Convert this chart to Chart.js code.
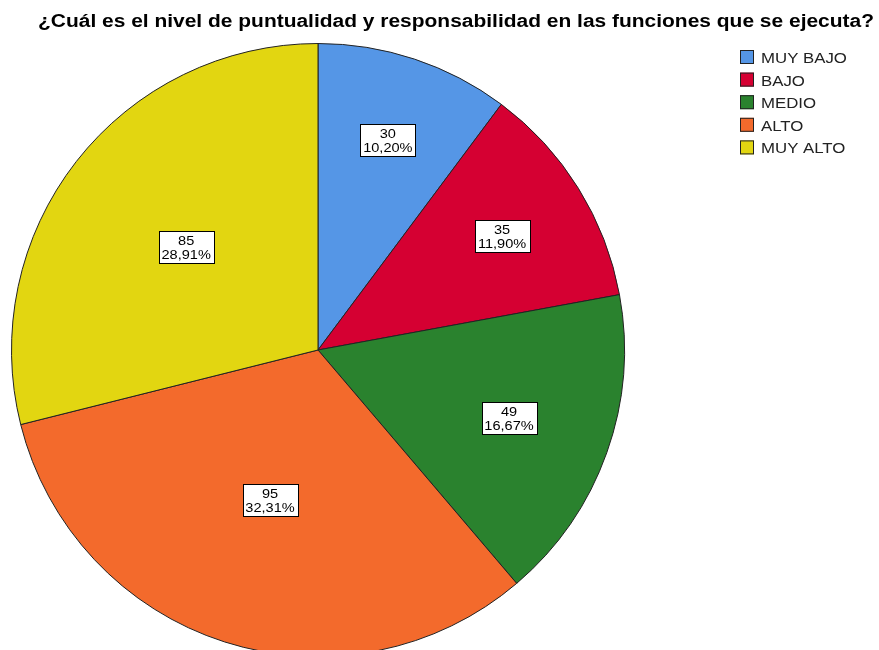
<!DOCTYPE html>
<html>
<head>
<meta charset="utf-8">
<script src="https://cdn.jsdelivr.net/npm/chart.js@4/dist/chart.umd.min.js"></script>
<style>
    html, body { margin: 0; padding: 0; background: #fff; overflow: hidden; }
    #wrap { position: relative; width: 879px; height: 700px; }
</style>
</head>
<body>
<div id="wrap"><canvas id="pie" width="879" height="700"></canvas></div>
<script>
const titulo = '¿Cuál es el nivel de puntualidad y responsabilidad en las funciones que se ejecuta?';
const categorias = ['MUY BAJO', 'BAJO', 'MEDIO', 'ALTO', 'MUY ALTO'];
const frecuencias = [30, 35, 49, 95, 85];
const porcentajes = ['10,20%', '11,90%', '16,67%', '32,31%', '28,91%'];
const colores = ['#5596E6', '#D50032', '#2A822E', '#F36A2C', '#E2D611'];

const FONT = '"Liberation Sans", Arial, sans-serif';

// text a bit wider than Arial, like the original render
function texto(ctx, s, x, y, align, sx) {
    ctx.save();
    ctx.translate(x, y);
    ctx.scale(sx, 1);
    ctx.textAlign = align;
    ctx.fillText(s, 0, 0);
    ctx.restore();
}

const extras = {
    id: 'extras',
    afterDraw(chart) {
        const ctx = chart.ctx;
        ctx.save();
        ctx.textBaseline = 'alphabetic';

        ctx.fillStyle = '#000';
        ctx.font = 'bold 18px ' + FONT;
        const tw = ctx.measureText(titulo).width;
        texto(ctx, titulo, 456, 27, 'center', 836 / tw);

        ctx.font = '15px ' + FONT;
        categorias.forEach((c, i) => {
            const y = 50 + i * 22.6;
            ctx.fillStyle = colores[i];
            ctx.fillRect(740, y, 14, 14);
            ctx.strokeStyle = '#222';
            ctx.lineWidth = 1;
            ctx.strokeRect(740.5, y + 0.5, 13, 13);
            ctx.fillStyle = '#222';
            texto(ctx, c, 761, y + 13, 'left', 1.12);
        });

        const meta = chart.getDatasetMeta(0);
        const total = frecuencias.reduce((a, b) => a + b, 0);
        ctx.font = '13px ' + FONT;
        meta.data.forEach((arc, i) => {
            const p = arc.getProps(['x', 'y', 'startAngle', 'endAngle', 'outerRadius'], true);
            const mid = (p.startAngle + p.endAngle) / 2;
            const f = 0.82 - 0.95 * frecuencias[i] / total;
            const cx = p.x + Math.cos(mid) * p.outerRadius * f;
            const cy = p.y + Math.sin(mid) * p.outerRadius * f;
            const w = 55, h = 32;
            const bx = Math.round(cx - w / 2), by = Math.round(cy - h / 2);
            ctx.fillStyle = '#fff';
            ctx.fillRect(bx, by, w, h);
            ctx.strokeStyle = '#000';
            ctx.strokeRect(bx + 0.5, by + 0.5, w, h);
            ctx.fillStyle = '#000';
            texto(ctx, String(frecuencias[i]), cx, cy - 2, 'center', 1.12);
            texto(ctx, porcentajes[i], cx, cy + 12, 'center', 1.12);
        });
        ctx.restore();
    }
};

new Chart(document.getElementById('pie'), {
    type: 'pie',
    data: {
        labels: categorias,
        datasets: [{
            data: frecuencias,
            backgroundColor: colores,
            borderColor: '#222',
            borderWidth: 1
        }]
    },
    options: {
        responsive: false,
        animation: false,
        layout: { padding: { left: 11, right: 254, top: 43, bottom: 43 } },
        plugins: {
            legend: { display: false },
            tooltip: { enabled: false }
        }
    },
    plugins: [extras]
});
</script>
</body>
</html>
